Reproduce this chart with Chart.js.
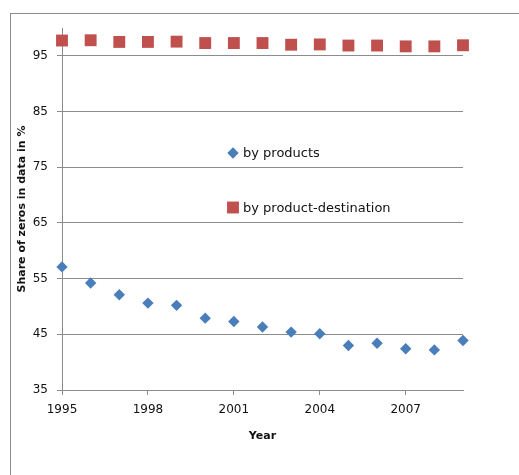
<!DOCTYPE html>
<html>
<head>
<meta charset="utf-8">
<script src="https://cdn.jsdelivr.net/npm/chart.js@4/dist/chart.umd.min.js"></script>
<style>
  html, body { margin: 0; padding: 0; background: #ffffff; }
  canvas { display: block; }
</style>
</head>
<body>
<canvas id="chart" width="519" height="475"></canvas>
<script>
// Share of zero trade flows, 1995-2009
const years = [1995, 1996, 1997, 1998, 1999, 2000, 2001, 2002, 2003, 2004, 2005, 2006, 2007, 2008, 2009];
const byProducts = [57.1, 54.2, 52.1, 50.6, 50.2, 47.9, 47.3, 46.3, 45.4, 45.1, 43.0, 43.4, 42.4, 42.2, 43.9];
const byProductDestination = [97.75, 97.8, 97.5, 97.5, 97.55, 97.3, 97.3, 97.3, 97.0, 97.05, 96.85, 96.85, 96.7, 96.7, 96.9];
const xTicks = [1995, 1998, 2001, 2004, 2007];
const yTicks = [35, 45, 55, 65, 75, 85, 95];
const seriesLabels = ['by products', 'by product-destination'];

const GRID = '#8c8c8c';
const TEXT = '#111111';
const FONT = "'DejaVu Sans', sans-serif";

const toPoints = (vals) => vals.map((v, i) => ({ x: years[i], y: v }));

// Gray frame around the whole chart
const framePlugin = {
  id: 'frame',
  beforeDraw(chart) {
    const ctx = chart.ctx;
    ctx.save();
    ctx.strokeStyle = '#8c8c8c';
    ctx.lineWidth = 1;
    ctx.strokeRect(10.5, 13.5, 700, 700);
    ctx.restore();
  }
};

// Legend floating inside the plot area
const innerLegend = {
  id: 'innerLegend',
  afterDraw(chart) {
    const ctx = chart.ctx;
    const area = chart.chartArea;
    const x0 = area.left + 171;
    const rowsY = [area.top + 125, area.top + 179.5];
    ctx.save();
    chart.data.datasets.forEach((ds, i) => {
      const y = rowsY[i];
      ctx.fillStyle = ds.backgroundColor;
      ctx.strokeStyle = ds.backgroundColor;
      ctx.lineWidth = 0;
      Chart.helpers.drawPoint(ctx, {
        pointStyle: ds.pointStyle,
        radius: ds.pointRadius,
        borderWidth: 0,
        rotation: 0
      }, x0, y);
      ctx.fillStyle = TEXT;
      ctx.font = '13px ' + FONT;
      ctx.textBaseline = 'middle';
      ctx.textAlign = 'left';
      ctx.fillText(ds.label, x0 + 10, y + 1);
    });
    ctx.restore();
  }
};

new Chart(document.getElementById('chart'), {
  type: 'scatter',
  data: {
    datasets: [
      {
        label: seriesLabels[0],
        data: toPoints(byProducts),
        pointStyle: 'rectRot',
        pointRadius: 5.7,
        pointHoverRadius: 5.7,
        backgroundColor: '#4a7ebb',
        borderColor: '#4a7ebb',
        borderWidth: 0,
        showLine: false,
        clip: false
      },
      {
        label: seriesLabels[1],
        data: toPoints(byProductDestination),
        pointStyle: 'rect',
        pointRadius: 8.4,
        pointHoverRadius: 8.4,
        backgroundColor: '#c0504d',
        borderColor: '#c0504d',
        borderWidth: 0,
        showLine: false,
        clip: false
      }
    ]
  },
  options: {
    responsive: false,
    devicePixelRatio: 1,
    animation: false,
    events: [],
    layout: { padding: { left: 0, top: 28, right: 56, bottom: 30 } },
    plugins: {
      legend: { display: false },
      tooltip: { enabled: false }
    },
    scales: {
      x: {
        type: 'linear',
        min: 1995,
        max: 2009,
        afterBuildTicks(scale) { scale.ticks = xTicks.map(v => ({ value: v })); },
        afterFit(scale) { scale.height = 55; },
        grid: {
          display: true,
          drawOnChartArea: false,
          drawTicks: true,
          tickLength: 5,
          color: GRID,
          lineWidth: 1
        },
        border: { display: true, color: GRID, width: 1 },
        ticks: {
          padding: 8,
          color: TEXT,
          font: { family: FONT, size: 12 },
          callback: (v) => String(v)
        },
        title: {
          display: true,
          text: 'Year',
          color: TEXT,
          font: { family: FONT, size: 11, weight: 'bold' },
          padding: { top: 0, bottom: 2 }
        }
      },
      y: {
        type: 'linear',
        min: 35,
        max: 100,
        afterBuildTicks(scale) { scale.ticks = yTicks.map(v => ({ value: v })); },
        afterFit(scale) { scale.width = 62; },
        grid: {
          display: true,
          drawTicks: true,
          tickLength: 5,
          color: GRID,
          lineWidth: 1
        },
        border: { display: true, color: GRID, width: 1 },
        ticks: {
          padding: 9,
          color: TEXT,
          font: { family: FONT, size: 12 },
          callback: (v) => String(v)
        },
        title: {
          display: true,
          text: 'Share of zeros in data in %',
          color: TEXT,
          font: { family: FONT, size: 11, weight: 'bold' },
          padding: { top: 16, bottom: 0 }
        }
      }
    }
  },
  plugins: [framePlugin, innerLegend]
});
</script>
</body>
</html>
